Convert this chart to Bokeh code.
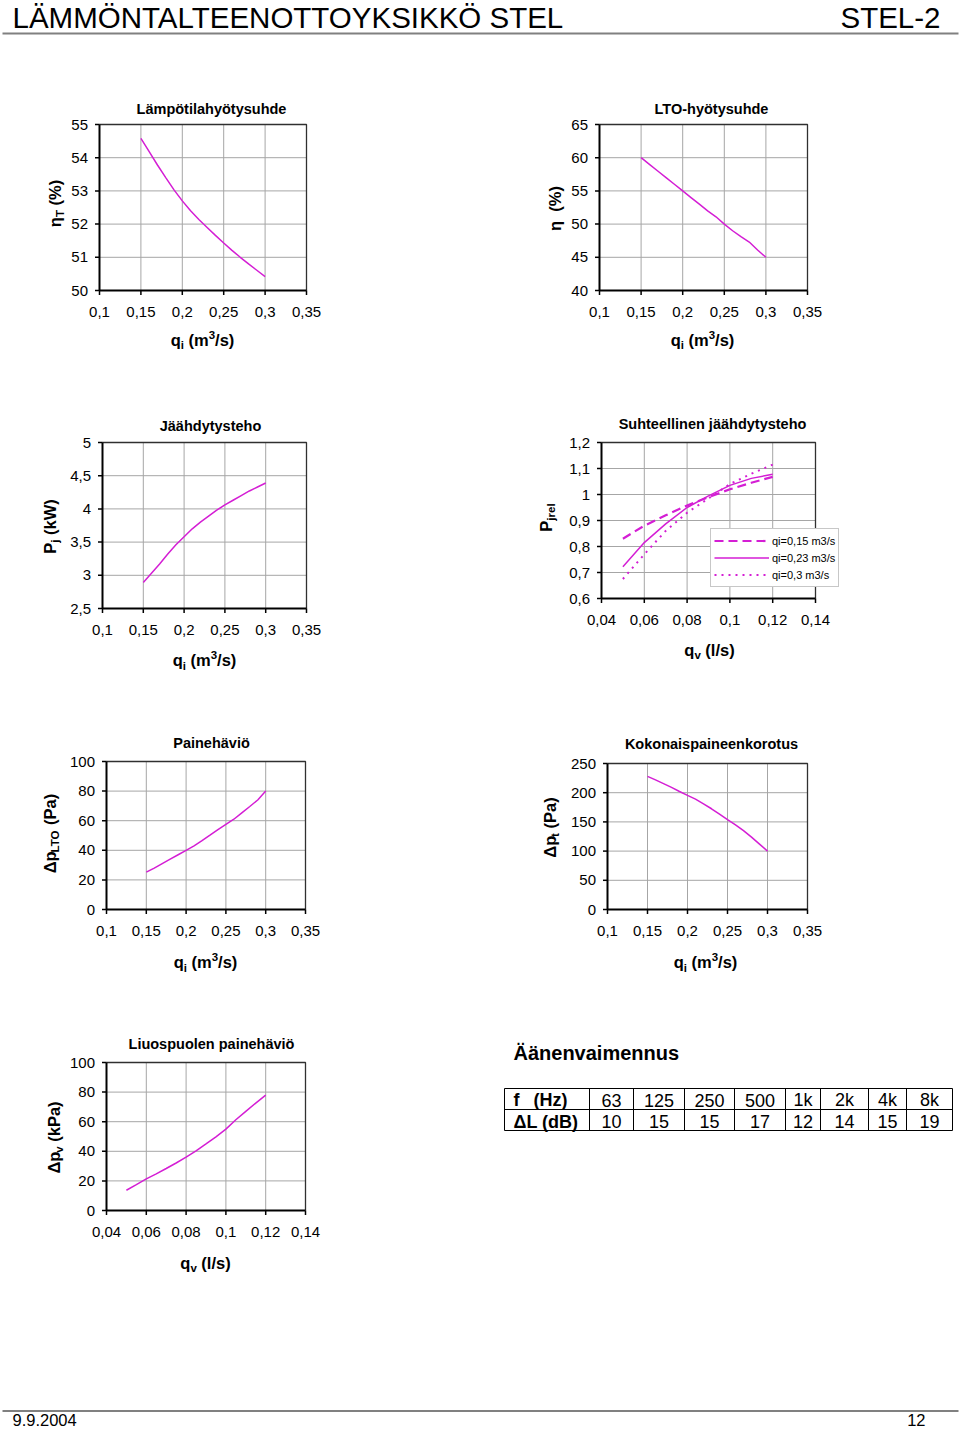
import math
from bokeh.plotting import figure
from bokeh.models import Range1d, Legend, LegendItem
from bokeh.core.properties import value
from bokeh.embed import file_html
from bokeh.resources import INLINE

# ---------------- data ----------------
qi = [0.15, 0.16, 0.17, 0.18, 0.19, 0.20, 0.21, 0.22, 0.23, 0.24, 0.25, 0.26, 0.27, 0.28, 0.29, 0.30]
eta_T = [54.58, 54.18, 53.78, 53.40, 53.03, 52.70, 52.40, 52.14, 51.90, 51.66, 51.43, 51.21, 51.00, 50.80, 50.61, 50.42]
eta_LTO = [60.0, 59.0, 58.0, 57.0, 56.0, 55.0, 54.0, 53.0, 52.0, 51.1, 50.0, 49.0, 48.1, 47.3, 46.1, 45.0]
P_j = [2.89, 3.03, 3.17, 3.32, 3.46, 3.58, 3.70, 3.80, 3.89, 3.98, 4.06, 4.13, 4.20, 4.27, 4.33, 4.39]
dp_LTO = [25.2, 28.0, 31.0, 34.0, 37.0, 40.0, 43.0, 46.5, 50.2, 54.0, 57.5, 61.0, 65.3, 69.6, 74.0, 80.0]
dp_t = [228, 222, 215.5, 209, 202, 195.5, 189, 181, 172.5, 163.5, 154, 145, 135, 124, 112, 100]

qv = [0.05, 0.06, 0.07, 0.08, 0.09, 0.10, 0.11, 0.12]
Pjrel_015 = [0.83, 0.88, 0.92, 0.958, 0.99, 1.02, 1.045, 1.068]
Pjrel_023 = [0.722, 0.815, 0.887, 0.95, 0.995, 1.035, 1.062, 1.078]
Pjrel_030 = [0.675, 0.77, 0.86, 0.93, 0.985, 1.04, 1.08, 1.115]
legend_labels = ["qi=0,15 m3/s", "qi=0,23 m3/s", "qi=0,3 m3/s"]

qv7 = [0.05, 0.055, 0.06, 0.065, 0.07, 0.075, 0.08, 0.085, 0.09, 0.095, 0.10, 0.105, 0.11, 0.115, 0.12]
dp_v = [13.7, 17.5, 21.4, 24.8, 28.4, 32.1, 36.0, 40.3, 45.0, 49.8, 55.0, 61.3, 67.0, 72.6, 78.0]

# ticks
qi_ticks = [0.10, 0.15, 0.20, 0.25, 0.30, 0.35]
qi_labels = ["0,1", "0,15", "0,2", "0,25", "0,3", "0,35"]
qv_ticks = [0.04, 0.06, 0.08, 0.10, 0.12, 0.14]
qv_labels = ["0,04", "0,06", "0,08", "0,1", "0,12", "0,14"]
y1_ticks = [50, 51, 52, 53, 54, 55]
y1_labels = ["50", "51", "52", "53", "54", "55"]
y2_ticks = [40, 45, 50, 55, 60, 65]
y2_labels = ["40", "45", "50", "55", "60", "65"]
y3_ticks = [2.5, 3.0, 3.5, 4.0, 4.5, 5.0]
y3_labels = ["2,5", "3", "3,5", "4", "4,5", "5"]
y4_ticks = [0.6, 0.7, 0.8, 0.9, 1.0, 1.1, 1.2]
y4_labels = ["0,6", "0,7", "0,8", "0,9", "1", "1,1", "1,2"]
y5_ticks = [0, 20, 40, 60, 80, 100]
y5_labels = ["0", "20", "40", "60", "80", "100"]
y6_ticks = [0, 50, 100, 150, 200, 250]
y6_labels = ["0", "50", "100", "150", "200", "250"]

freqs = ["63", "125", "250", "500", "1k", "2k", "4k", "8k"]
dL = [10, 15, 15, 17, 12, 14, 15, 19]

# ---------------- page ----------------
FONT = "Liberation Sans"
MAG = "#d41ed4"
GRID = "#a6a6a6"
MID = 0.36          # em-box middle above the alphabetic baseline
PX0, PX1, PY0, PY1 = 0, 960, 0, 1429

p = figure(width=PX1 - PX0, height=PY1 - PY0, x_range=Range1d(PX0, PX1), y_range=Range1d(PY1, PY0),
           output_backend="svg", toolbar_location=None, min_border=0,
           x_axis_location=None, y_axis_location=None)
p.grid.visible = False
p.outline_line_color = None
p.background_fill_color = "white"
p.border_fill_color = "white"

W_REG = {"0": .556, "1": .556, "2": .556, "3": .556, "4": .556, "5": .556, "6": .556, "7": .556, "8": .556, "9": .556,
         ",": .278, ".": .278, " ": .278}
W_BOLD = {" ": .278, "(": .333, ")": .333, "%": .889, "/": .278, "3": .556, "P": .667, "T": .611, "L": .611,
          "O": .778, "W": .944, "a": .556, "e": .556, "i": .278, "j": .278, "k": .556, "l": .278, "m": .889,
          "p": .611, "q": .611, "r": .389, "s": .556, "t": .333, "v": .556, "\u0394": .65, "\u03b7": .611}


def tw(s, size, bold=True):
    tab = W_BOLD if bold else W_REG
    return sum(tab.get(c, 0.556) for c in s) * size


def txt(x, y, s, size, bold=False, align="left", rotate=False, color="black"):
    """(x, y) is the alphabetic baseline point; drawn with a 'middle' baseline."""
    if rotate:
        x, angle = x - MID * size, math.pi / 2
    else:
        y, angle = y - MID * size, 0
    p.text(x=[x], y=[y], text=[s], text_font=value(FONT), text_font_size=f"{size}px",
           text_font_style="bold" if bold else "normal", text_align=align, text_baseline="middle",
           angle=angle, text_color=color)


def rich(x, y, parts, size=16.5, rotate=False):
    specs = []
    for t, kind in parts:
        s = size if kind == 0 else round(size * 0.7, 1)
        sh = 0 if kind == 0 else (-0.22 * size if kind < 0 else 0.42 * size)
        specs.append((t, s, sh))
    total = sum(tw(t, s) for t, s, _ in specs)
    pos = -total / 2
    for t, s, sh in specs:
        lead = tw(t[:len(t) - len(t.lstrip(" "))], s)
        body = t.strip(" ")
        if body:
            if rotate:
                txt(x - sh, y - (pos + lead), body, s, bold=True, rotate=True)
            else:
                txt(x + pos + lead, y - sh, body, s, bold=True)
        pos += tw(t, s)


def chart(name, box, xlim, ylim, xticks, xlabels, yticks, ylabels):
    bx0, by0, bx1, by1 = box
    sx = (xlim[1] - xlim[0]) / (bx1 - bx0)
    sy = (ylim[1] - ylim[0]) / (by0 - by1)
    p.extra_x_ranges[name] = Range1d(xlim[0] + (PX0 - bx0) * sx, xlim[0] + (PX1 - bx0) * sx)
    p.extra_y_ranges[name] = Range1d(ylim[0] - (PY1 - by0) * sy, ylim[0] + (by0 - PY0) * sy)
    kw = dict(x_range_name=name, y_range_name=name)
    n, m = len(xticks), len(yticks)
    p.segment(x0=xticks, y0=[ylim[0]] * n, x1=xticks, y1=[ylim[1]] * n, line_color=GRID, line_width=1, **kw)
    p.segment(x0=[xlim[0]] * m, y0=yticks, x1=[xlim[1]] * m, y1=yticks, line_color=GRID, line_width=1, **kw)
    p.line(x=[xlim[0], xlim[1], xlim[1]], y=[ylim[1], ylim[1], ylim[0]], line_color="#303030", line_width=1.3, **kw)
    p.line(x=[xlim[0], xlim[0], xlim[1]], y=[ylim[1], ylim[0], ylim[0]], line_color="black", line_width=2, **kw)
    # tick marks (data coordinate along the axis, page pixels across it)
    p.segment(x0=xticks, y0=[by0] * n, x1=xticks, y1=[by0 + 4.5] * n, x_range_name=name,
              line_color="black", line_width=1.5)
    p.segment(x0=[bx0 - 4.5] * m, y0=yticks, x1=[bx0] * m, y1=yticks, y_range_name=name,
              line_color="black", line_width=1.5)
    p.text(x=xticks, y=[by0 + 21] * n, text=xlabels, x_range_name=name, text_font=value(FONT),
           text_font_size="15px", text_align="center", text_baseline="middle")
    p.text(x=[bx0 - 11.5] * m, y=yticks, text=ylabels, y_range_name=name, text_font=value(FONT),
           text_font_size="15px", text_align="right", text_baseline="middle")
    return kw


def title(x, y, s):
    txt(x, y, s, 14.5, bold=True, align="center")


QI_LABEL = [("q", 0), ("i", -1), (" (m", 0), ("3", 1), ("/s)", 0)]
QV_LABEL = [("q", 0), ("v", -1), (" (l/s)", 0)]

# header / footer
txt(12, 28, "LÄMMÖNTALTEENOTTOYKSIKKÖ STEL", 29.5)
txt(940, 28, "STEL-2", 29.5, align="right")
p.segment(x0=[2], y0=[33], x1=[958], y1=[33], line_color="#808080", line_width=2)
p.segment(x0=[2], y0=[1410.5], x1=[958], y1=[1410.5], line_color="#808080", line_width=2)
txt(12, 1425, "9.9.2004", 16.5)
txt(925, 1425, "12", 16.5, align="right")

# chart 1
kw = chart("c1", (99, 290, 306, 124), (0.1, 0.35), (50, 55), qi_ticks, qi_labels, y1_ticks, y1_labels)
p.line(x=qi, y=eta_T, line_color=MAG, line_width=1.5, **kw)
title(211, 114, "Lämpötilahyötysuhde")
rich(202, 345.3, QI_LABEL)
rich(60, 203, [("\u03b7", 0), ("T", -1), (" (%)", 0)], rotate=True)

# chart 2
kw = chart("c2", (599, 290, 807, 124), (0.1, 0.35), (40, 65), qi_ticks, qi_labels, y2_ticks, y2_labels)
p.line(x=qi, y=eta_LTO, line_color=MAG, line_width=1.5, **kw)
title(711, 114, "LTO-hyötysuhde")
rich(702, 345.3, QI_LABEL)
rich(560, 208, [("\u03b7", 0), ("  (%)", 0)], rotate=True)

# chart 3
kw = chart("c3", (102, 608, 306, 442), (0.1, 0.35), (2.5, 5), qi_ticks, qi_labels, y3_ticks, y3_labels)
p.line(x=qi, y=P_j, line_color=MAG, line_width=1.5, **kw)
title(210, 431, "Jäähdytysteho")
rich(204, 665.8, QI_LABEL)
rich(55, 526, [("P", 0), ("j", -1), (" (kW)", 0)], rotate=True)

# chart 4
kw = chart("c4", (601, 598, 815, 442), (0.04, 0.14), (0.6, 1.2), qv_ticks, qv_labels, y4_ticks, y4_labels)
r1 = p.line(x=qv, y=Pjrel_015, line_color=MAG, line_width=2.2, line_dash="9 5", **kw)
r2 = p.line(x=qv, y=Pjrel_023, line_color=MAG, line_width=1.5, **kw)
r3 = p.line(x=qv, y=Pjrel_030, line_color=MAG, line_width=2, line_dash="2 5", **kw)
title(712, 429, "Suhteellinen jäähdytysteho")
rich(709, 655.3, QV_LABEL)
rich(551, 517, [("P", 0), ("jrel", -1)], rotate=True)
legend = Legend(items=[LegendItem(label=legend_labels[0], renderers=[r1]),
                       LegendItem(label=legend_labels[1], renderers=[r2]),
                       LegendItem(label=legend_labels[2], renderers=[r3])],
                location=(710 - PX0, PY1 - 587), orientation="vertical",
                label_text_font=FONT, label_text_font_size="11px", label_text_color="black",
                glyph_width=55, glyph_height=17, label_height=17, label_standoff=3,
                spacing=0, padding=3, margin=0,
                border_line_color="#909090", border_line_width=1,
                background_fill_color="white", background_fill_alpha=1.0)
p.add_layout(legend)

# chart 5
kw = chart("c5", (106, 909, 305, 761), (0.1, 0.35), (0, 100), qi_ticks, qi_labels, y5_ticks, y5_labels)
p.line(x=qi, y=dp_LTO, line_color=MAG, line_width=1.5, **kw)
title(211, 747.7, "Painehäviö")
rich(205, 967.6, QI_LABEL)
rich(55, 833, [("\u0394p", 0), ("LTO", -1), (" (Pa)", 0)], rotate=True)

# chart 6
kw = chart("c6", (607, 909, 807, 763), (0.1, 0.35), (0, 250), qi_ticks, qi_labels, y6_ticks, y6_labels)
p.line(x=qi, y=dp_t, line_color=MAG, line_width=1.5, **kw)
title(711, 749, "Kokonaispaineenkorotus")
rich(705, 967.6, QI_LABEL)
rich(555, 827, [("\u0394p", 0), ("t", -1), (" (Pa)", 0)], rotate=True)

# chart 7
kw = chart("c7", (106, 1210, 305, 1062), (0.04, 0.14), (0, 100), qv_ticks, qv_labels, y5_ticks, y5_labels)
p.line(x=qv7, y=dp_v, line_color=MAG, line_width=1.5, **kw)
title(211, 1049, "Liuospuolen painehäviö")
rich(205, 1268.3, QV_LABEL)
rich(59, 1137, [("\u0394p", 0), ("v", -1), (" (kPa)", 0)], rotate=True)

# sound attenuation table
txt(513, 1060, "Äänenvaimennus", 20, bold=True)
col_edges = [504, 589, 633, 684, 734, 785, 820, 868, 906, 952]
row_edges = [1088, 1109, 1130]
p.segment(x0=col_edges, y0=[row_edges[0]] * len(col_edges), x1=col_edges, y1=[row_edges[-1]] * len(col_edges),
          line_color="black", line_width=1)
p.segment(x0=[col_edges[0]] * len(row_edges), y0=row_edges, x1=[col_edges[-1]] * len(row_edges), y1=row_edges,
          line_color="black", line_width=1)
centers = [(col_edges[i] + col_edges[i + 1]) / 2 for i in range(1, len(col_edges) - 1)]
p.text(x=centers, y=[1106 - MID * 18] * len(freqs), text=freqs, text_font=value(FONT), text_font_size="18px",
       text_align="center", text_baseline="middle")
p.text(x=centers, y=[1127.5 - MID * 18] * len(dL), text=[str(v) for v in dL], text_font=value(FONT),
       text_font_size="18px", text_align="center", text_baseline="middle")
txt(513, 1106, "f", 18, bold=True)
txt(533, 1106, "(Hz)", 18, bold=True)
txt(513, 1127.5, "\u0394L (dB)", 18, bold=True)

open("out.html", "w").write(file_html(p, INLINE))
